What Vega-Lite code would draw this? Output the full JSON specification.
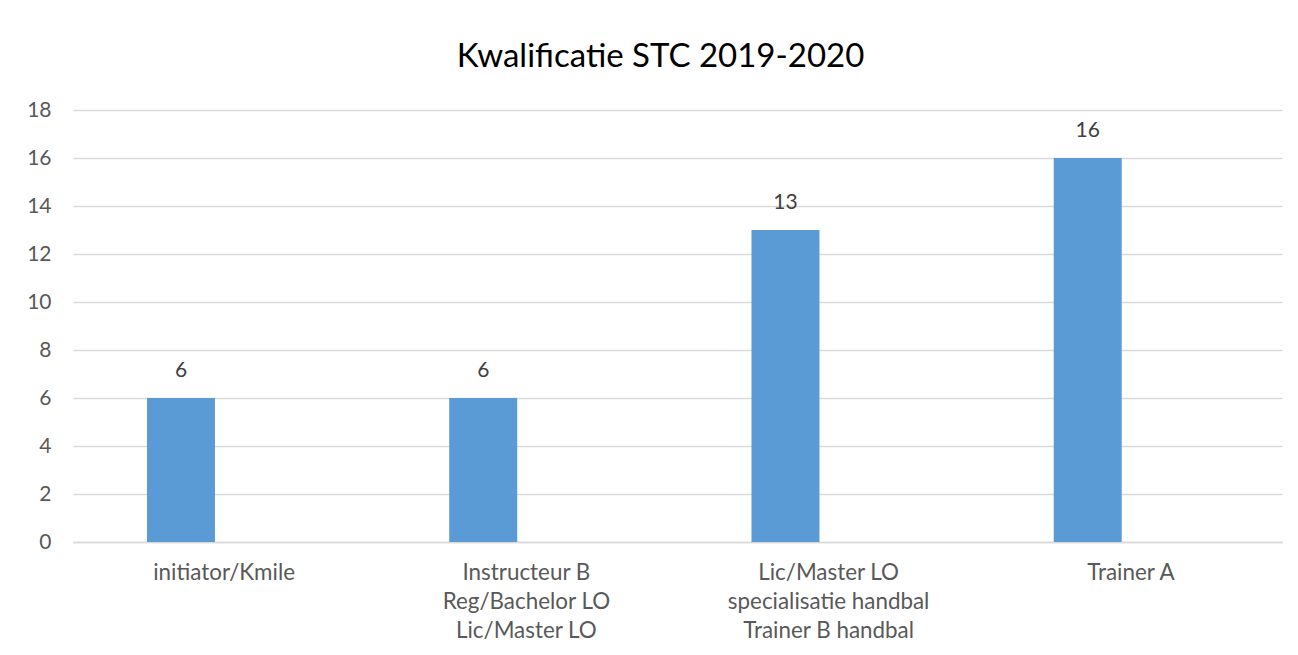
{
  "$schema": "https://vega.github.io/schema/vega-lite/v6.json",
  "autosize": {"type": "none"},
  "width": 1209,
  "height": 432,
  "padding": {"left": 73, "top": 110, "right": 16, "bottom": 113},
  "background": "#ffffff",
  "title": {
    "text": "Kwalificatie STC 2019-2020",
    "font": "Lato",
    "fontSize": 33,
    "fontWeight": "normal",
    "color": "#000000",
    "anchor": "middle",
    "frame": "group",
    "dx": -17,
    "offset": 25
  },
  "config": {
    "view": {"stroke": null},
    "font": "Lato"
  },
  "data": {
    "values": [
      {"category": "initiator/Kmile", "series": "a", "value": 6},
      {"category": "Instructeur B\nReg/Bachelor LO\nLic/Master LO", "series": "a", "value": 6},
      {"category": "Lic/Master LO\nspecialisatie handbal\nTrainer B handbal", "series": "a", "value": 13},
      {"category": "Trainer A", "series": "a", "value": 16}
    ]
  },
  "encoding": {
    "x": {
      "field": "category",
      "type": "nominal",
      "sort": null,
      "scale": {"paddingInner": 0, "paddingOuter": 0},
      "axis": {
        "title": null,
        "labelAngle": 0,
        "labelExpr": "split(datum.label, '\\n')",
        "labelFont": "Lato",
        "labelFontSize": 22.4,
        "labelColor": "#595959",
        "labelLineHeight": 29,
        "labelPadding": 19,
        "labelBaseline": "top",
        "ticks": false,
        "domainColor": "#d9d9d9",
        "domainWidth": 1.5,
        "labelLimit": 300
      }
    },
    "xOffset": {
      "field": "series",
      "type": "nominal",
      "scale": {"domain": ["a", "b", "c"], "paddingInner": 0, "paddingOuter": 0.7224, "align": 0.753}
    },
    "y": {
      "field": "value",
      "type": "quantitative",
      "scale": {"domain": [0, 18], "nice": false},
      "axis": {
        "title": null,
        "values": [0, 2, 4, 6, 8, 10, 12, 14, 16, 18],
        "labelFont": "Lato",
        "labelFontSize": 21,
        "labelColor": "#595959",
        "labelPadding": 22,
        "ticks": false,
        "domain": false,
        "gridColor": "#d9d9d9",
        "gridWidth": 1.5
      }
    }
  },
  "layer": [
    {
      "mark": {"type": "bar", "color": "#5b9bd5"}
    },
    {
      "mark": {"type": "text", "baseline": "middle", "dy": -27, "font": "Lato", "fontSize": 21, "color": "#404040"},
      "encoding": {"text": {"field": "value", "type": "quantitative"}}
    }
  ]
}
